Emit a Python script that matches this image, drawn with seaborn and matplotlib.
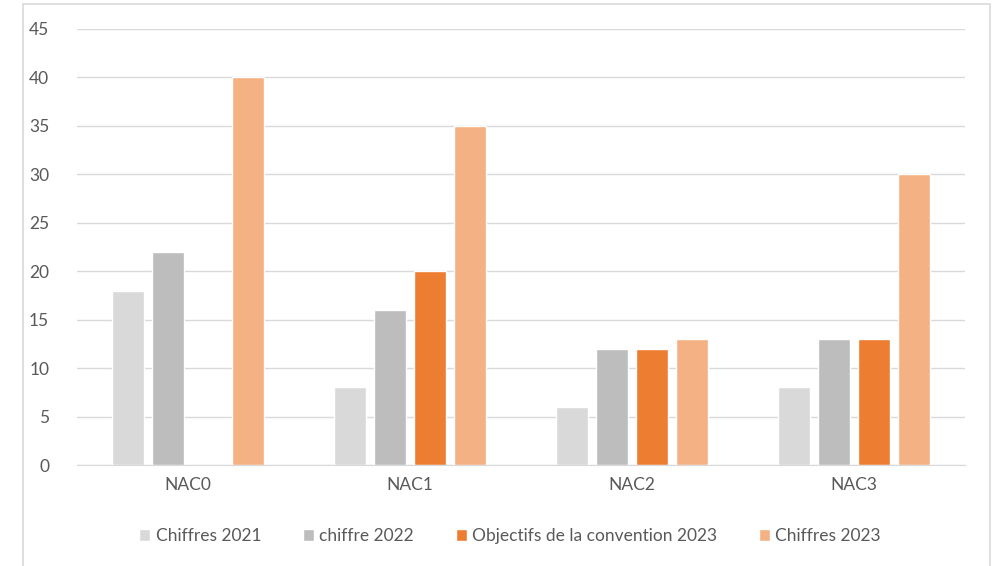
import numpy as np
import pandas as pd
import matplotlib
matplotlib.use("Agg")
import matplotlib.pyplot as plt
import seaborn as sns
from matplotlib.patches import Rectangle

# données
categories = ["NAC0", "NAC1", "NAC2", "NAC3"]
series = ["Chiffres 2021", "chiffre 2022", "Objectifs de la convention 2023", "Chiffres 2023"]
chiffres_2021 = [18, 8, 6, 8]
chiffre_2022 = [22, 16, 12, 13]
objectifs_2023 = [np.nan, 20, 12, 13]
chiffres_2023 = [40, 35, 13, 30]
couleurs = ["#D9D9D9", "#BDBDBD", "#ED7D31", "#F4B183"]

rows = []
for s, vals in zip(series, [chiffres_2021, chiffre_2022, objectifs_2023, chiffres_2023]):
    for c, v in zip(categories, vals):
        rows.append({"cat": c, "serie": s, "val": v})
df = pd.DataFrame(rows)

sns.set_style("white")
plt.rcParams["font.family"] = ["Lato", "DejaVu Sans"]

fig = plt.figure(figsize=(9.93, 5.66), dpi=100)
fig.patches.append(Rectangle((23 / 993, -0.01), 967 / 993, 1 - 4 / 566 + 0.01,
                             transform=fig.transFigure, fill=False,
                             edgecolor="#D9D9D9", linewidth=1.2))
ax = fig.add_axes([77 / 993, 1 - 465 / 566, 888 / 993, 436 / 566])

sns.barplot(data=df, x="cat", y="val", hue="serie", hue_order=series,
            palette=couleurs, width=0.72, gap=0.22, ax=ax, saturation=1,
            legend=True)

ax.set_xlim(-0.5, 3.5)
ax.set_ylim(0, 45)
ax.set_yticks(range(0, 46, 5))
ax.yaxis.grid(True, color="#D9D9D9", linewidth=1)
ax.set_axisbelow(True)
for sp in ["top", "right", "left"]:
    ax.spines[sp].set_visible(False)
ax.spines["bottom"].set_color("#D9D9D9")
ax.set_xlabel("")
ax.set_ylabel("")
ax.tick_params(axis="both", length=0, labelsize=12.5, labelcolor="#595959")
ax.tick_params(axis="y", pad=20)
ax.tick_params(axis="x", pad=9)

ax.legend(loc="center", bbox_to_anchor=(510 / 993, 1 - 536 / 566),
          bbox_transform=fig.transFigure, ncol=4, frameon=False,
          fontsize=12.5, labelcolor="#595959", handlelength=0.65,
          handleheight=0.65, handletextpad=0.3, columnspacing=2.4)

fig.savefig("out.png", dpi=100)
